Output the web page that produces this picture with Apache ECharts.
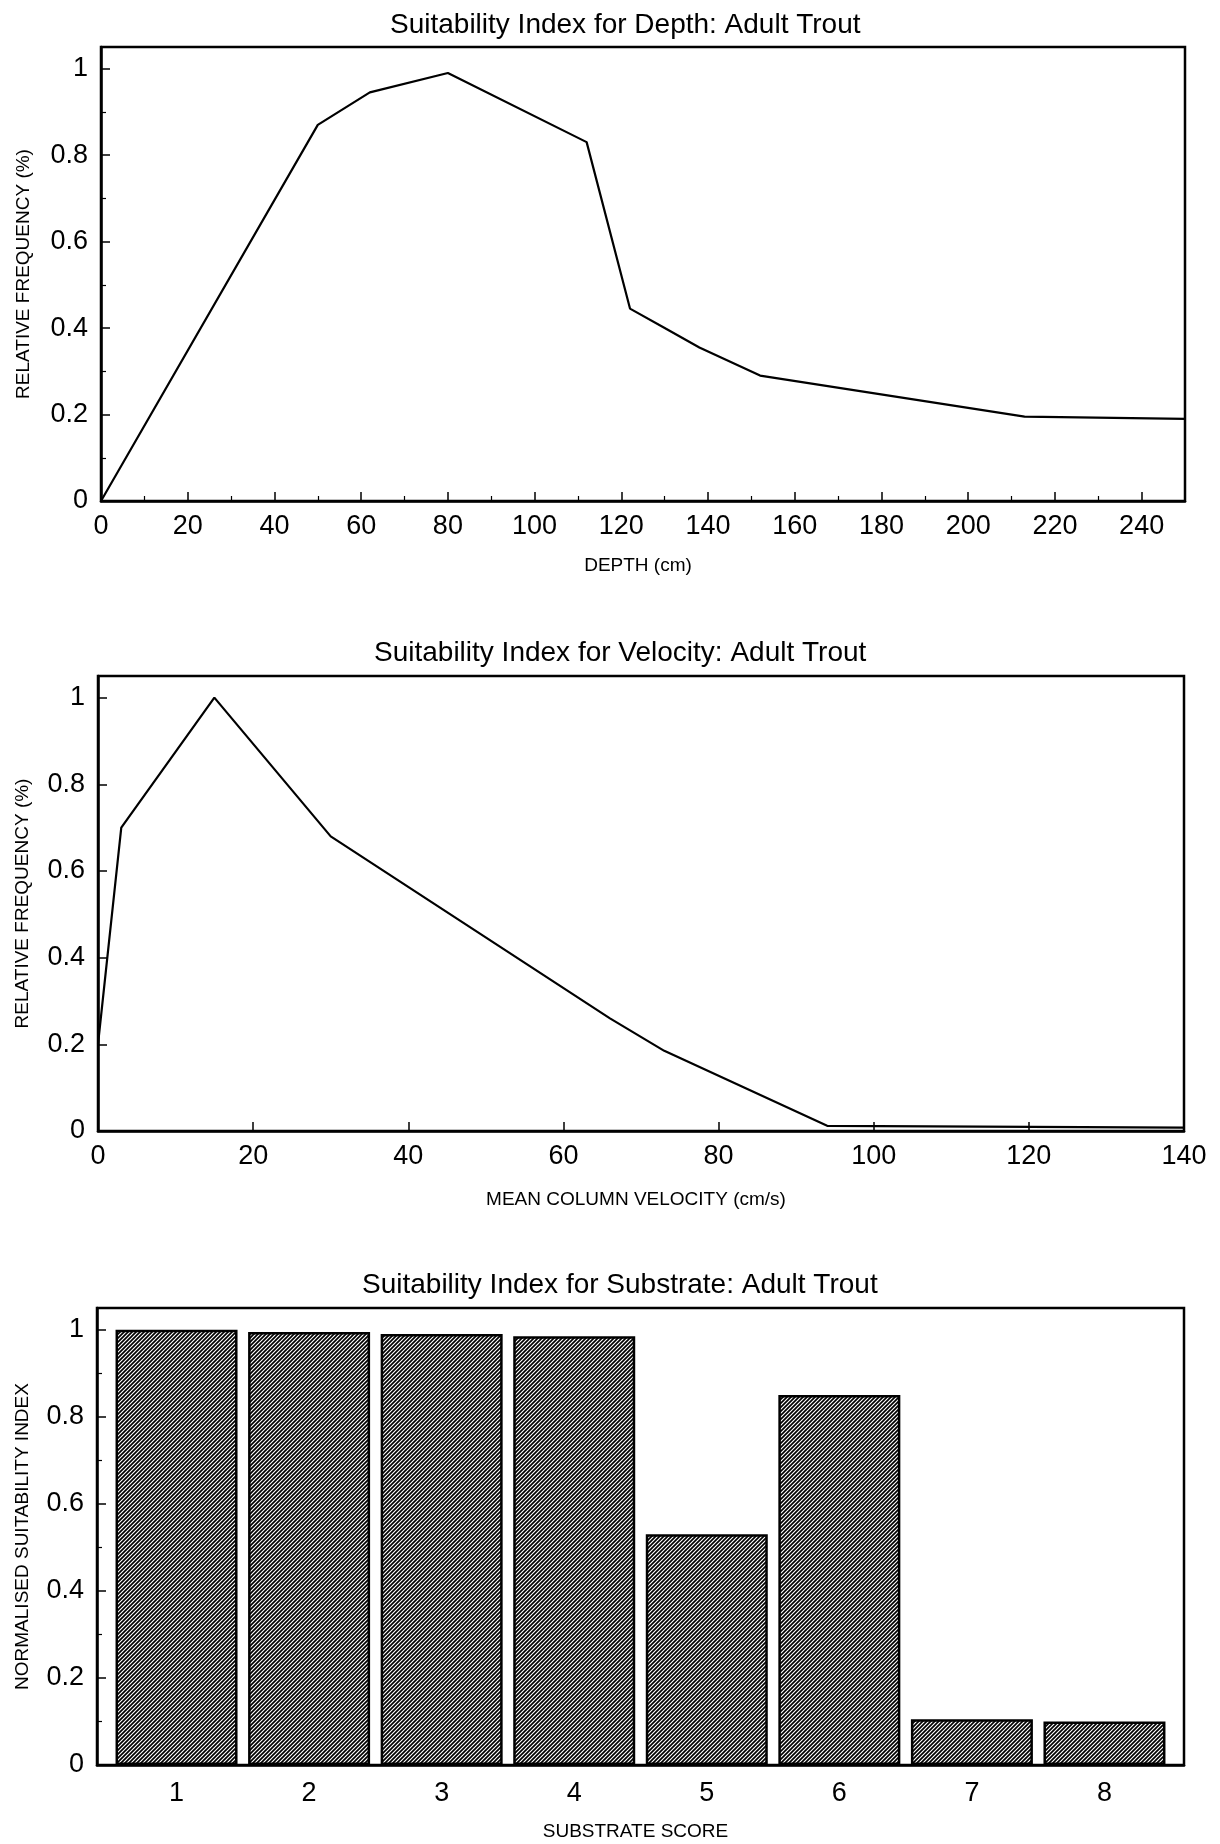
<!DOCTYPE html>
<html>
<head>
<meta charset="utf-8">
<script src="https://cdn.jsdelivr.net/npm/echarts@6/dist/echarts.min.js"></script>
<style>
  html, body { margin: 0; padding: 0; background: #fff; }
  #main { width: 1220px; height: 1844px; }
</style>
</head>
<body>
<div id="main"></div>
<script>
// depth curve (cm -> suitability)
const depthX = [0, 50, 62, 80, 112, 122, 130, 138, 152, 213, 250];
const depthY = [0, 0.87, 0.945, 0.99, 0.83, 0.445, 0.40, 0.355, 0.29, 0.195, 0.19];

// velocity curve (cm/s -> suitability)
const velocityX = [0, 3, 15, 30, 66, 73, 94, 140];
const velocityY = [0.2, 0.70, 1.0, 0.68, 0.26, 0.185, 0.012, 0.008];

// substrate bars
const substrateScores = [1, 2, 3, 4, 5, 6, 7, 8];
const substrateIndex = [1.0, 0.995, 0.99, 0.985, 0.53, 0.85, 0.105, 0.10];

const titles = [
  'Suitability Index for Depth: Adult Trout',
  'Suitability Index for Velocity: Adult Trout',
  'Suitability Index for Substrate: Adult Trout'
];
const yNames = ['RELATIVE FREQUENCY (%)', 'RELATIVE FREQUENCY (%)', 'NORMALISED SUITABILITY INDEX'];
const xNames = ['DEPTH (cm)', 'MEAN COLUMN VELOCITY (cm/s)', 'SUBSTRATE SCORE'];

const font = "'Liberation Sans', Arial, sans-serif";

function hatch() {
  const c = document.createElement('canvas');
  c.width = 4; c.height = 4;
  const ctx = c.getContext('2d');
  ctx.fillStyle = '#fff';
  ctx.fillRect(0, 0, 4, 4);
  ctx.strokeStyle = '#000';
  ctx.lineWidth = 1.7;
  ctx.beginPath();
  ctx.moveTo(-1, 5); ctx.lineTo(5, -1);
  ctx.moveTo(-1, 1); ctx.lineTo(1, -1);
  ctx.moveTo(3, 5); ctx.lineTo(5, 3);
  ctx.stroke();
  return c;
}

const axisLine = { lineStyle: { color: '#000', width: 2.5 } };
const axisTick = { inside: true, length: 9, lineStyle: { color: '#000', width: 1.5 } };
const minorTick = { show: true, splitNumber: 2, length: 5, lineStyle: { color: '#000', width: 1.2 } };
const tickFont = { color: '#000', fontSize: 27, fontFamily: font };

function yAxis(i, gap, minor) {
  return {
    gridIndex: i, type: 'value', min: 0, max: 1.05, interval: 0.2,
    name: yNames[i], nameLocation: 'middle', nameGap: gap,
    nameTextStyle: { color: '#000', fontSize: 19, fontFamily: font },
    axisLine: axisLine, axisTick: axisTick,
    minorTick: minor ? minorTick : { show: false },
    splitLine: { show: false },
    axisLabel: Object.assign({ margin: 13, showMaxLabel: false }, tickFont)
  };
}

function xName(i, gap) {
  return {
    name: xNames[i], nameLocation: 'middle', nameGap: gap,
    nameTextStyle: { color: '#000', fontSize: 19, fontFamily: font, padding: [0, 10, 0, 0] }
  };
}

const grids = [
  { left: 101, right: 35, top: 47, height: 454 },
  { left: 98, right: 36, top: 676, height: 455 },
  { left: 97, right: 36, top: 1308, height: 457 }
].map(g => Object.assign(g, { show: true, borderColor: '#000', borderWidth: 2.5 }));

const option = {
  animation: false,
  backgroundColor: '#fff',
  title: titles.map((t, i) => ({
    text: t, left: [390, 374, 362][i], top: [11, 639, 1271][i],
    padding: 0,
    textStyle: { color: '#000', fontSize: 28, fontWeight: 'normal', fontFamily: font }
  })),
  grid: grids,
  xAxis: [
    Object.assign({
      gridIndex: 0, type: 'value', min: 0, max: 250, interval: 20,
      axisLine: axisLine, axisTick: axisTick, minorTick: minorTick,
      splitLine: { show: false },
      axisLabel: Object.assign({ margin: 12, showMaxLabel: false }, tickFont)
    }, xName(0, 55)),
    Object.assign({
      gridIndex: 1, type: 'value', min: 0, max: 140, interval: 20,
      axisLine: axisLine, axisTick: axisTick,
      splitLine: { show: false },
      axisLabel: Object.assign({ margin: 12 }, tickFont)
    }, xName(1, 59)),
    Object.assign({
      gridIndex: 2, type: 'value', min: 0.4, max: 8.6,
      axisLine: axisLine,
      axisTick: Object.assign({ customValues: substrateScores }, axisTick),
      splitLine: { show: false },
      axisLabel: Object.assign({ margin: 15, customValues: substrateScores }, tickFont)
    }, xName(2, 57))
  ],
  yAxis: [yAxis(0, 68, true), yAxis(1, 66, false), yAxis(2, 65, true)],
  series: [
    {
      type: 'line', xAxisIndex: 0, yAxisIndex: 0, showSymbol: false, silent: true,
      lineStyle: { color: '#000', width: 2.2 },
      data: depthX.map((x, i) => [x, depthY[i]])
    },
    {
      type: 'line', xAxisIndex: 1, yAxisIndex: 1, showSymbol: false, silent: true,
      lineStyle: { color: '#000', width: 2.2 },
      data: velocityX.map((x, i) => [x, velocityY[i]])
    },
    {
      type: 'bar', xAxisIndex: 2, yAxisIndex: 2, barWidth: 122, silent: true,
      itemStyle: { color: { image: hatch(), repeat: 'repeat' }, borderColor: '#000', borderWidth: 2.5 },
      data: substrateScores.map((x, i) => [x, substrateIndex[i]])
    }
  ]
};

const chart = echarts.init(document.getElementById('main'));
chart.setOption(option);
</script>
</body>
</html>
